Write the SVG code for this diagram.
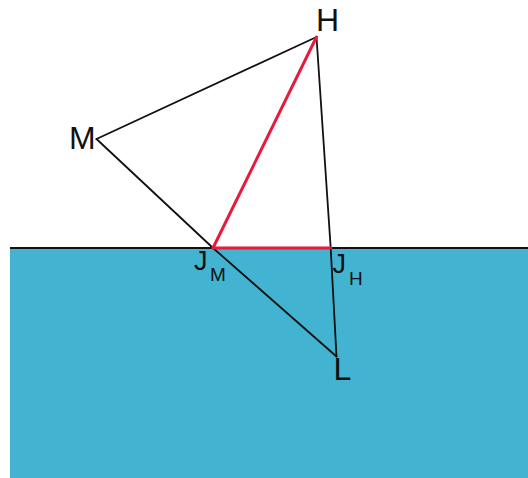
<svg xmlns="http://www.w3.org/2000/svg" width="528" height="478" viewBox="0 0 528 478">
<style>
.lbl{font-family:"Liberation Sans",Arial,sans-serif;fill:#111}
.big{font-size:32px}
.mid{font-size:27px}
.sub{font-size:19px}
.ln{stroke:#111;stroke-width:1.8;fill:none;stroke-linecap:round}
.red{stroke:#e8193c;stroke-width:3;fill:none;stroke-linecap:round}
</style>
<rect width="528" height="478" fill="#ffffff"/>
<g id="water">
<rect x="10" y="248" width="518" height="230" fill="#42b4d2"/>
<line x1="10" y1="248" x2="528" y2="248" stroke="#111" stroke-width="1.8"/>
</g>
<g id="connectors">
<line class="ln" x1="96.5" y1="139" x2="316.5" y2="37"/>
<line class="ln" x1="96.5" y1="139" x2="213" y2="248"/>
<line class="ln" x1="213" y1="248" x2="336.5" y2="356.5"/>
<line class="ln" x1="316.5" y1="37" x2="330.7" y2="248"/>
<line class="ln" x1="330.7" y1="248" x2="336.5" y2="356.5"/>
<line class="red" x1="316.5" y1="37" x2="213" y2="248"/>
<line class="red" x1="213" y1="248" x2="330.7" y2="248"/>
</g>
<g id="node-H"><text class="lbl big" x="316" y="31">H</text></g>
<g id="node-M"><text class="lbl big" x="69" y="149">M</text></g>
<g id="node-JM"><text class="lbl mid" x="194" y="270">J</text><text class="lbl sub" x="210" y="281">M</text></g>
<g id="node-JH"><text class="lbl mid" x="332.5" y="273">J</text><text class="lbl sub" x="349" y="285">H</text></g>
<g id="node-L"><text class="lbl big" x="333.5" y="380">L</text></g>
</svg>
